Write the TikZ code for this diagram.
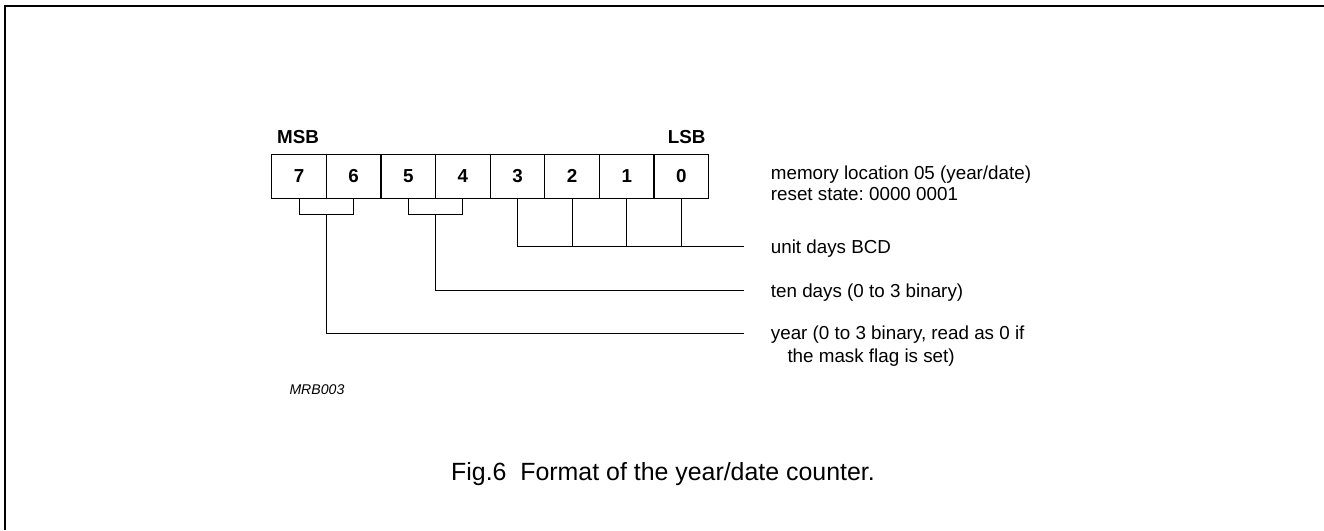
\documentclass[tikz,border=0pt]{standalone}
\usepackage{fontspec}
\setmainfont{Liberation Sans}
\usetikzlibrary{calc}
\frenchspacing
\tikzset{
  bitcell/.style={draw, line width=1.3pt, minimum width=54.6pt, minimum height=44pt, inner sep=0pt, font=\fontsize{18.8}{22}\selectfont\bfseries},
  lbl/.style={anchor=base west, inner sep=0pt, font=\fontsize{18.8}{22}\selectfont},
  endlbl/.style={inner sep=0pt, font=\fontsize{18.8}{22}\selectfont\bfseries},
  conn/.style={line width=1pt},
  frame/.style={line width=2pt}
}
\begin{document}
\begin{tikzpicture}[x=1pt,y=-1pt]
\useasboundingbox (0,0) rectangle (1324,530);
% frame
\draw[frame] (4.5,530) -- (4.5,5.5) -- (1324,5.5);
% bit cells
\foreach \i in {7,...,0} {
  \node[bitcell] (c\i) at ({299+(7-\i)*54.625},176.3) {\i};
}
\node[endlbl] (msb) at (298,137) {MSB};
\node[endlbl] (lsb) at (686.7,137) {LSB};
% bracket coordinates
\coordinate (b76) at ($(c7.south)!0.5!(c6.south)+(0,16)$);
\coordinate (b54) at ($(c5.south)!0.5!(c4.south)+(0,16)$);
\coordinate (ud) at (744.3,246.3);
\coordinate (td) at (744.3,290.7);
\coordinate (yr) at (744.3,333.5);
% brackets
\draw[conn] (c7.south) |- (b76) -| (c6.south);
\draw[conn] (c5.south) |- (b54) -| (c4.south);
% unit days
\draw[conn] (c3.south) |- (ud);
\draw[conn] (c2.south) -- (c2.south |- ud);
\draw[conn] (c1.south) -- (c1.south |- ud);
\draw[conn] (c0.south) -- (c0.south |- ud);
% ten days
\draw[conn] (b54) |- (td);
% year
\draw[conn] (b76) |- (yr);
% labels
\node[lbl] (mem) at (770.7,179.8) {memory location 05 (year/date)};
\node[lbl] (rst) at (770.7,200.8) {reset state: 0000 0001};
\node[lbl] (lud) at (770.7,253.0) {unit days BCD};
\node[lbl] (ltd) at (770.7,297.2) {ten days (0 to 3 binary)};
\node[lbl] (lyr1) at (770.7,339.8) {year (0 to 3 binary, read as 0 if};
\node[lbl] (lyr2) at (787.3,362.6) {the mask flag is set)};
\node[anchor=west, inner sep=0pt, font=\fontsize{14.1}{16}\selectfont\itshape] (code) at (289.3,389.3) {MRB003};
\node[anchor=base west, inner sep=0pt, font=\fontsize{24.9}{28}\selectfont] (cap) at (451,480) {Fig.6\ \ Format of the year/date counter.};
\end{tikzpicture}
\end{document}
